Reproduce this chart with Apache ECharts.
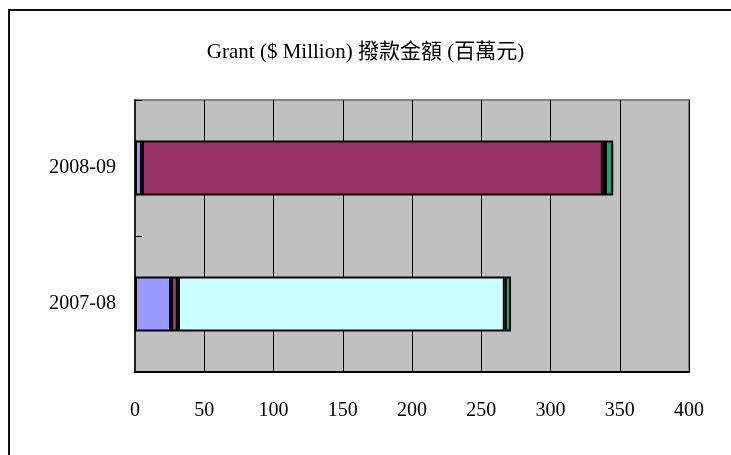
<!DOCTYPE html>
<html>
<head>
<meta charset="utf-8">
<script src="https://cdn.jsdelivr.net/npm/echarts@6/dist/echarts.min.js"></script>
<style>html,body{margin:0;padding:0;background:#fff;}#c{width:731px;height:455px;}</style>
</head>
<body>
<div id="c"></div>
<script>
var categories = ['2007-08', '2008-09'];
var seriesA = [26, 5];
var seriesB = [5, 332.8];
var seriesC = [236, 1.5];
var seriesD = [4.5, 6];
var xTicks = [0, 50, 100, 150, 200, 250, 300, 350, 400];
var titleText = 'Grant ($ Million) 撥款金額 (百萬元)';

var FONT = '"Liberation Serif", "Noto Sans CJK TC", serif';
var colors = ['#9999FF', '#993366', '#CCFFFF', '#339966'];
var chart = echarts.init(document.getElementById('c'), null, {renderer: 'canvas'});
function mk(name, data, color) {
  return {
    name: name, type: 'bar', stack: 'total', data: data, barWidth: 55,
    itemStyle: {color: color, borderColor: '#000', borderWidth: 2},
    emphasis: {disabled: true}
  };
}
chart.setOption({
  animation: false,
  backgroundColor: '#fff',
  title: {
    text: titleText, left: 'center', top: 37,
    textStyle: {fontFamily: FONT, fontSize: 21, fontWeight: 'normal', color: '#000'}
  },
  graphic: [{
    type: 'rect', shape: {x: 9, y: 10, width: 800, height: 500},
    style: {fill: 'none', stroke: '#111', lineWidth: 2}, silent: true
  }],
  grid: {
    left: 135, right: 42, top: 100, bottom: 83, show: true,
    backgroundColor: '#C0C0C0', borderColor: '#808080', borderWidth: 2
  },
  xAxis: {
    type: 'value', min: 0, max: 400, interval: 50,
    axisLine: {show: true, lineStyle: {color: '#000', width: 2}},
    axisTick: {show: false},
    splitLine: {show: true, lineStyle: {color: '#000', width: 1}},
    axisLabel: {
      fontFamily: FONT, fontSize: 20, color: '#000', margin: 29,
      formatter: function (v) { return xTicks.indexOf(v) >= 0 ? String(v) : ''; }
    }
  },
  yAxis: {
    type: 'category', data: categories,
    axisLine: {show: true, lineStyle: {color: '#222', width: 2}},
    axisTick: {show: true, inside: true, length: 7, lineStyle: {color: '#000'}},
    splitLine: {show: false},
    axisLabel: {fontFamily: FONT, fontSize: 20, color: '#000', margin: 19}
  },
  series: [
    mk('A', seriesA, colors[0]),
    mk('B', seriesB, colors[1]),
    mk('C', seriesC, colors[2]),
    mk('D', seriesD, colors[3])
  ]
});
</script>
</body>
</html>
